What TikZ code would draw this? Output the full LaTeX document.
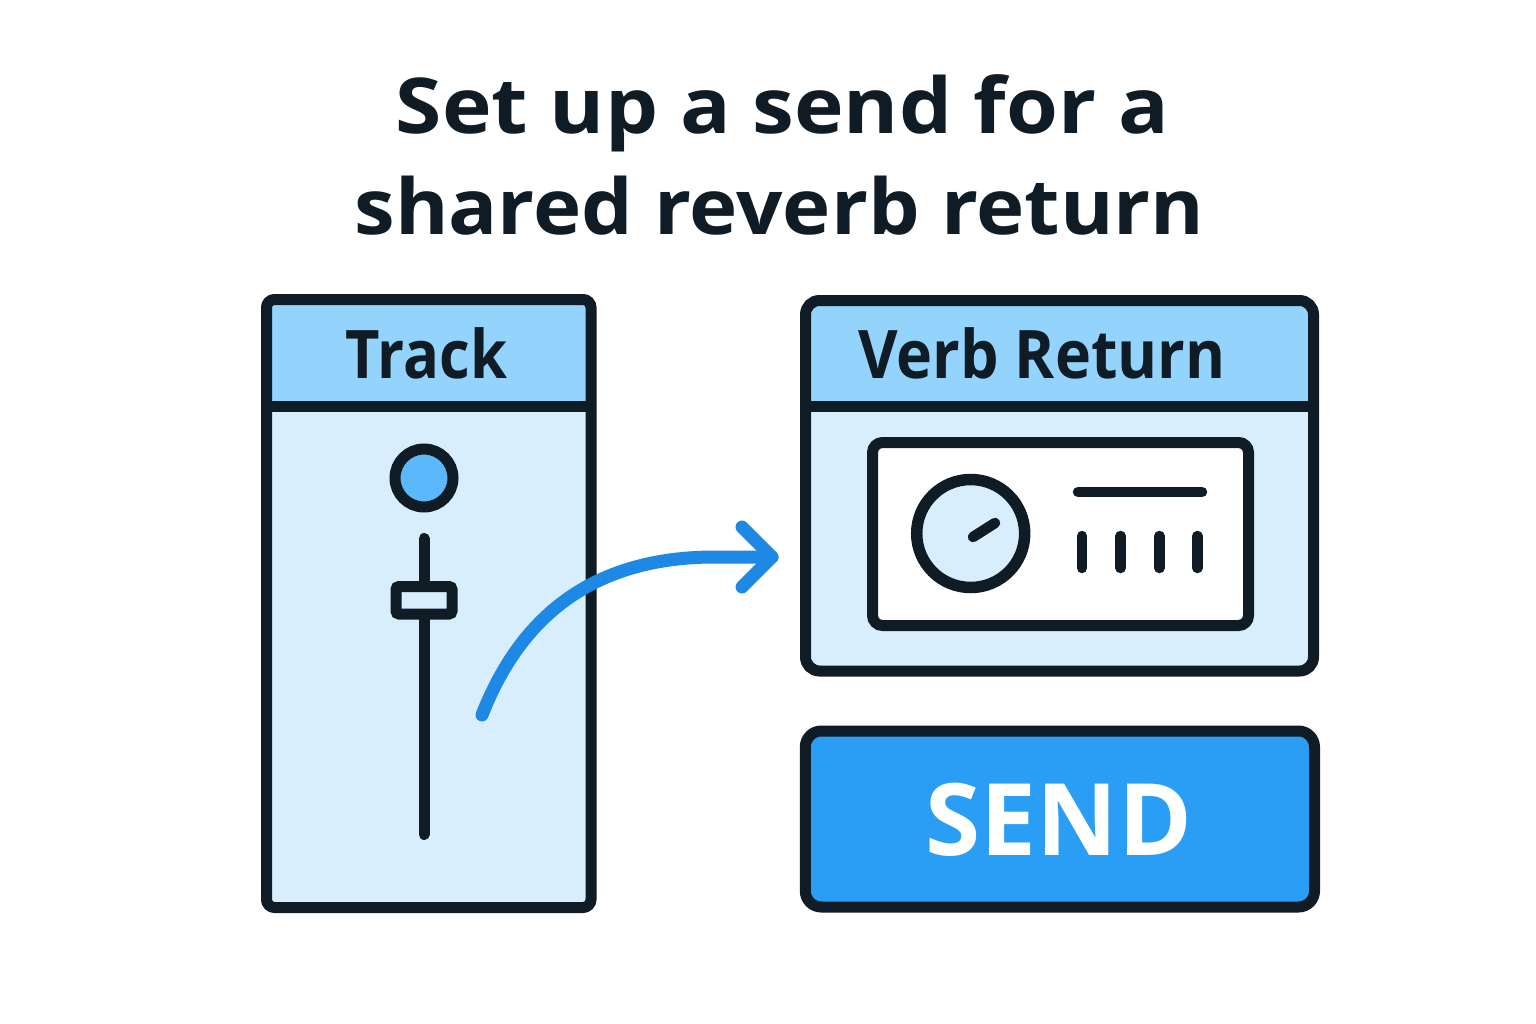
\documentclass[tikz,border=0pt]{standalone}
\usepackage{fontspec}
\setmainfont{Open Sans}
\definecolor{ink}{HTML}{0F1C25}
\definecolor{headc}{HTML}{94D3FC}
\definecolor{bodyc}{HTML}{D8EEFC}
\definecolor{knobc}{HTML}{5BB8FA}
\definecolor{arrowc}{HTML}{1E88E5}
\definecolor{sendc}{HTML}{2A9DF5}
\tikzset{
  ol/.style={draw=ink, line width=11pt},
  title/.style={inner sep=0pt, anchor=base, text=ink, font=\fontsize{77}{90}\selectfont\bfseries},
  lab/.style={inner sep=0pt, anchor=base, text=ink, font=\fontsize{67}{80}\selectfont\bfseries},
  sendlab/.style={inner sep=0pt, anchor=base, text=white, font=\fontsize{100}{110}\selectfont\bfseries},
  tick/.style={draw=ink, line width=10.5pt, line cap=round},
  flow/.style={draw=arrowc, line width=13pt, line cap=round, line join=round}
}
\begin{document}
\begin{tikzpicture}[x=1pt,y=-1pt]
\useasboundingbox (0,0) rectangle (1536,1024);
\fill[white] (0,0) rectangle (1536,1024);

% title
\node[title] (t1) at (782.5,134) {\scalebox{1.09}[1]{Set up a send for a}};
\node[title] (t2) at (779.5,235) {\scalebox{1.06}[1]{shared reverb return}};

% Track panel
\fill[bodyc, rounded corners=8] (266.5,299.5) rectangle (591,907.5);
\begin{scope}
  \clip[rounded corners=8] (266.5,299.5) rectangle (591,907.5);
  \fill[headc] (266.5,299.5) rectangle (591,406);
\end{scope}
\draw[ol, rounded corners=8] (266.5,299.5) rectangle (591,907.5);
\draw[ol] (266.5,406) -- (591,406);
\node[lab] (tracklbl) at (426.5,378) {\scalebox{0.89}[1]{Track}};

% fader
\draw[ol, line cap=round] (424,538.5) -- (424,834.5);
\draw[ol, fill=bodyc, rounded corners=3] (396,586.5) rectangle (452,614);
\draw[ol, fill=knobc] (424,478) circle[radius=29];

% Verb Return panel
\fill[bodyc, rounded corners=14] (805.5,300.5) rectangle (1313.5,671);
\begin{scope}
  \clip[rounded corners=14] (805.5,300.5) rectangle (1313.5,671);
  \fill[headc] (805.5,300.5) rectangle (1313.5,406);
\end{scope}
\draw[ol, rounded corners=14] (805.5,300.5) rectangle (1313.5,671);
\draw[ol] (805.5,406) -- (1313.5,406);
\node[lab] (verblbl) at (1042,378) {\scalebox{0.91}[1]{Verb Return}};

% display box
\draw[ol, fill=white, rounded corners=10] (872.5,442.5) rectangle (1248.5,625.5);
\draw[ol, line width=11.5pt, fill=bodyc] (970.7,533.5) circle[radius=54];
\draw[tick] (973,537) -- (995,523);
\draw[tick] (1078,492) -- (1202,492);
\foreach \xx in {1082,1120.7,1159.3,1197.3}
  \draw[tick] (\xx,536) -- (\xx,568);

% SEND button
\draw[ol, fill=sendc, rounded corners=16] (805.3,731) rectangle (1314.5,907);
\node[sendlab] (sendlbl) at (1059,855) {SEND};

% arrow
\coordinate (as) at (482,715);
\coordinate (ae) at (772,557);
\draw[flow] (as) .. controls (525,605) and (605,557) .. (715,557) -- (ae);
\draw[flow] (742,527) -- (ae) -- (742,587);
\end{tikzpicture}
\end{document}
